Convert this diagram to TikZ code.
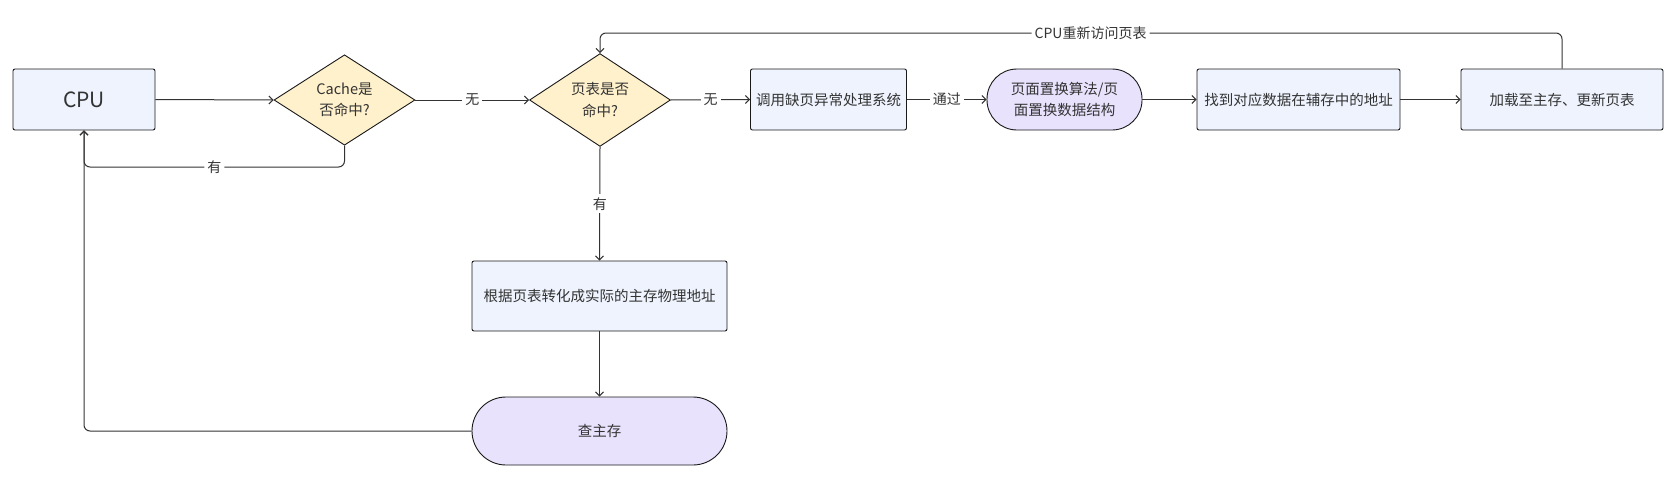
\documentclass[tikz,border=0pt]{standalone}
\usepackage{fontspec}
\setmainfont{Noto Sans CJK SC}
\usepackage{tikz}
\usetikzlibrary{arrows.meta,shapes}
\definecolor{boxblue}{HTML}{EEF3FD}
\definecolor{decyellow}{HTML}{FFF1CC}
\definecolor{pilllilac}{HTML}{E9E2FD}
\definecolor{inkgray}{HTML}{333333}
\tikzset{%
    proc_block/.style={%
        rectangle, rounded corners=2pt, draw=black!90, fill=boxblue, line width=0.9pt,
        minimum height=61pt, inner sep=0pt, text=inkgray, align=center,
        font=\fontsize{14.5}{21}\selectfont
    },
    decision/.style={%
        diamond, draw=black!90, fill=decyellow, line width=0.9pt, minimum width=141pt,
        minimum height=90pt, inner sep=0pt, text=inkgray, align=center,
        font=\fontsize{14.5}{21.5}\selectfont
    },
    terminal/.style={%
        proc_block, fill=pilllilac, rounded corners=30pt
    },
    flow/.style={%
        draw=inkgray, line width=1pt, -{Straight Barb[length=4pt,width=8pt]}
    },
    edge_label/.style={%
        fill=white, inner sep=3pt, text=inkgray, font=\fontsize{14}{16}\selectfont
    },
}
\begin{document}
\begin{tikzpicture}[x=1pt,y=-1pt]
    \useasboundingbox (0,0) rectangle (1672,479);

    % top row
    \node[proc_block, minimum width=142pt, font=\fontsize{21}{24}\selectfont] (cpu) at (84,99.5) {CPU};
    \node[decision] (cache) at (344.5,100) {Cache是\\否命中?};
    \node[decision] (pagetab) at (600,100) {页表是否\\命中?};
    \node[proc_block, minimum width=156pt] (fault) at (828.5,99.5) {调用缺页异常处理系统};
    \node[terminal, minimum width=155pt] (replace) at (1064.5,99.5) {页面置换算法/页\\面置换数据结构};
    \node[proc_block, minimum width=203pt] (findaddr) at (1298.5,99.5) {找到对应数据在辅存中的地址};
    \node[proc_block, minimum width=202pt] (load) at (1562,99.5) {加载至主存、更新页表};

    % lower column
    \node[proc_block, minimum width=255pt, minimum height=70pt] (translate) at (599.5,296) {根据页表转化成实际的主存物理地址};
    \node[terminal, minimum width=255pt, minimum height=68pt, rounded corners=34pt] (lookup) at (599.5,431) {查主存};

    \draw[flow] (cpu.east) -- (cache.west);
    \draw[flow] (cache.east) -- node[edge_label] {无} (pagetab.west);
    \draw[flow] (pagetab.east) -- node[edge_label] {无} (fault.west);
    \draw[flow] (fault.east) -- node[edge_label] {通过} (replace.west);
    \draw[flow] (replace.east) -- (findaddr.west);
    \draw[flow] (findaddr.east) -- (load.west);
    \draw[flow, rounded corners=6pt] (load.north) -- (load.north |- 0,33)
        -- node[edge_label, pos=0.49] {CPU重新访问页表} (pagetab.north |- 0,33) -- (pagetab.north);
    \draw[flow] (pagetab.south) -- node[edge_label] {有} (translate.north);
    \draw[flow] (translate.south) -- (lookup.north);
    \draw[flow, rounded corners=6pt] (cache.south) -- (cache.south |- 0,167)
        -- node[edge_label] {有} (cpu.south |- 0,167) -- (cpu.south);
    \draw[flow, rounded corners=6pt] (lookup.west) -| (cpu.south);

\end{tikzpicture}
\end{document}
